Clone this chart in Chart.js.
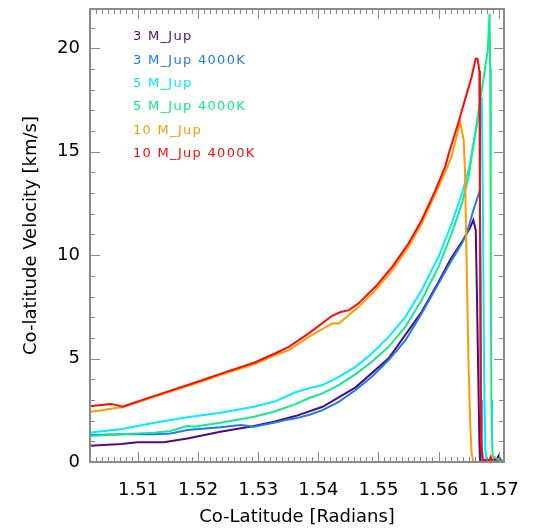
<!DOCTYPE html>
<html>
<head>
<meta charset="utf-8">
<script src="https://cdn.jsdelivr.net/npm/chart.js@4.4.1/dist/chart.umd.min.js"></script>
<style>
  html,body{margin:0;padding:0;background:#fff;}
  #c{display:block;}
</style>
</head>
<body>
<canvas id="c" width="538" height="531"></canvas>
<script>
// ---- data ----
const seriesNames = ["3 M_Jup", "3 M_Jup 4000K", "5 M_Jup", "5 M_Jup 4000K", "10 M_Jup", "10 M_Jup 4000K"];
const seriesColors = ["#520a78", "#1a7cf5", "#00eeff", "#10ec8c", "#ff9a00", "#ff0a0a"];

const xTickValues = [1.51, 1.52, 1.53, 1.54, 1.55, 1.56, 1.57];
const yTickValues = [0, 5, 10, 15, 20];
const xRange = [1.502, 1.5709];
const yRange = [0, 21.9];

const m3_x = [1.5020,1.5072,1.5099,1.5143,1.5182,1.5237,1.5293,1.5326,1.5362,1.5407,1.5462,1.5517,1.5572,1.5600,1.5620,1.5640,1.5652,1.5658,1.5662,1.5664,1.5666,1.5668,1.5669,1.5680,1.5690,1.5697,1.5700,1.5703,1.5709];
const m3_y = [0.79,0.87,0.95,0.95,1.14,1.46,1.74,1.95,2.22,2.67,3.61,5.01,7.26,8.70,9.80,10.70,11.30,11.69,11.20,8.00,4.50,1.00,0.10,0.05,0.10,0.15,0.30,0.10,0.00];

const m3k_x = [1.5020,1.5072,1.5127,1.5154,1.5182,1.5237,1.5271,1.5293,1.5326,1.5351,1.5362,1.5384,1.5407,1.5434,1.5462,1.5489,1.5517,1.5545,1.5572,1.5600,1.5622,1.5639,1.5647,1.5658,1.5669,1.5670,1.5671,1.5672,1.5674,1.5690,1.5709];
const m3k_y = [1.30,1.34,1.34,1.38,1.55,1.68,1.79,1.71,1.90,2.06,2.11,2.27,2.51,2.91,3.48,4.12,4.93,5.89,7.18,8.63,9.76,10.57,11.05,12.17,13.14,9.00,3.00,0.80,0.10,0.05,0.00];

const m5_x = [1.5020,1.5072,1.5127,1.5182,1.5237,1.5293,1.5326,1.5362,1.5384,1.5407,1.5434,1.5462,1.5489,1.5517,1.5545,1.5572,1.5600,1.5622,1.5639,1.5650,1.5661,1.5672,1.5674,1.5676,1.5678,1.5680,1.5690,1.5709];
const m5_y = [1.42,1.58,1.90,2.16,2.38,2.67,2.91,3.37,3.56,3.72,4.12,4.60,5.25,6.05,7.02,8.31,9.92,11.53,12.98,14.10,15.80,17.65,12.00,4.00,0.60,0.10,0.05,0.00];

const m5k_x = [1.5020,1.5072,1.5127,1.5154,1.5182,1.5193,1.5237,1.5293,1.5326,1.5362,1.5384,1.5407,1.5434,1.5462,1.5489,1.5517,1.5545,1.5572,1.5600,1.5622,1.5639,1.5650,1.5666,1.5677,1.5682,1.5685,1.5686,1.5687,1.5688,1.5689,1.5690,1.5700,1.5709];
const m5k_y = [1.26,1.34,1.42,1.50,1.74,1.70,1.90,2.19,2.43,2.80,3.08,3.32,3.72,4.25,4.85,5.57,6.54,7.83,9.43,11.05,12.50,13.78,16.84,18.94,19.90,21.67,19.00,10.00,3.00,1.20,0.30,0.10,0.00];

const m10_x = [1.5020,1.5040,1.5060,1.5074,1.5111,1.5154,1.5199,1.5243,1.5293,1.5326,1.5351,1.5384,1.5423,1.5434,1.5467,1.5495,1.5523,1.5550,1.5572,1.5595,1.5611,1.5617,1.5622,1.5636,1.5642,1.5644,1.5647,1.5650,1.5653,1.5655,1.5658,1.5709];
const m10_y = [2.43,2.50,2.60,2.65,3.00,3.40,3.83,4.26,4.72,5.15,5.41,6.05,6.70,6.70,7.50,8.31,9.28,10.40,11.53,12.98,14.00,14.43,14.80,16.44,15.56,14.10,9.40,4.60,1.70,0.43,0.00,0.00];

const m10k_x = [1.5020,1.5054,1.5065,1.5074,1.5111,1.5154,1.5199,1.5243,1.5293,1.5326,1.5351,1.5384,1.5423,1.5437,1.5451,1.5467,1.5495,1.5523,1.5550,1.5572,1.5595,1.5611,1.5617,1.5633,1.5642,1.5650,1.5655,1.5658,1.5662,1.5665,1.5668,1.5669,1.5670,1.5671,1.5673,1.5685,1.5687,1.5690,1.5709];
const m10k_y = [2.70,2.80,2.75,2.67,3.04,3.45,3.88,4.32,4.80,5.22,5.57,6.22,7.07,7.25,7.34,7.67,8.47,9.43,10.56,11.69,13.14,14.27,14.90,16.40,17.30,18.10,18.60,19.00,19.50,19.50,18.90,12.00,3.00,0.80,0.10,0.10,0.25,0.05,0.00];

const seriesX = [m3_x, m3k_x, m5_x, m5k_x, m10_x, m10k_x];
const seriesY = [m3_y, m3k_y, m5_y, m5k_y, m10_y, m10k_y];

// ---- chart ----
const FONT = "'DejaVu Sans', 'Liberation Sans', sans-serif";
const AXIS_COLOR = "#8a8a8a";

const datasets = seriesNames.map((name, i) => ({
  label: name,
  data: seriesX[i].map((x, k) => ({x: x, y: seriesY[i][k]})),
  borderColor: seriesColors[i],
  backgroundColor: seriesColors[i],
  borderWidth: 2,
  pointRadius: 0,
  showLine: true,
  tension: 0,
  fill: false,
  order: seriesNames.length - i
}));

const boxTicksPlugin = {
  id: 'boxTicks',
  afterDatasetsDraw(chart) {
    const ctx = chart.ctx;
    const a = chart.chartArea;
    const xs = chart.scales.x, ys = chart.scales.y;
    ctx.save();
    ctx.strokeStyle = AXIS_COLOR;
    ctx.lineWidth = 1;
    // x ticks (minor every 0.001, major every 0.01)
    const k0 = Math.ceil(xs.min / 0.001 - 1e-6), k1 = Math.floor(xs.max / 0.001 + 1e-6);
    for (let k = k0; k <= k1; k++) {
      const px = Math.round(xs.getPixelForValue(k * 0.001)) + 0.5;
      const major = (k % 10 === 0);
      const len = major ? 10 : 5;
      ctx.beginPath();
      ctx.moveTo(px, a.bottom); ctx.lineTo(px, a.bottom - len);
      ctx.moveTo(px, a.top); ctx.lineTo(px, a.top + len);
      ctx.stroke();
    }
    // y ticks (minor every 1, major every 5)
    for (let v = Math.ceil(ys.min); v <= Math.floor(ys.max); v++) {
      const py = Math.round(ys.getPixelForValue(v)) + 0.5;
      const len = (v % 5 === 0) ? 10 : 5;
      ctx.beginPath();
      ctx.moveTo(a.left, py); ctx.lineTo(a.left + len, py);
      ctx.moveTo(a.right, py); ctx.lineTo(a.right - len, py);
      ctx.stroke();
    }
    // box
    ctx.lineWidth = 2;
    ctx.strokeRect(a.left, a.top, a.right - a.left, a.bottom - a.top);
    ctx.restore();

    // legend (coloured text only)
    ctx.save();
    ctx.font = "13px " + FONT;
    if ('letterSpacing' in ctx) ctx.letterSpacing = "1.3px";
    ctx.textAlign = "left";
    ctx.textBaseline = "middle";
    seriesNames.forEach((name, i) => {
      ctx.fillStyle = seriesColors[i];
      ctx.fillText(name, a.left + 43, a.top + 28 + i * 23.3);
    });
    ctx.restore();
  }
};

new Chart(document.getElementById('c'), {
  type: 'scatter',
  data: { datasets },
  options: {
    responsive: false,
    animation: false,
    events: [],
    layout: { padding: { top: 9, right: 34, left: 0, bottom: 0 } },
    plugins: { legend: { display: false }, tooltip: { enabled: false } },
    scales: {
      x: {
        type: 'linear',
        min: xRange[0],
        max: xRange[1],
        afterBuildTicks(scale) { scale.ticks = xTickValues.map(v => ({value: v})); },
        afterFit(scale) { scale.height = 69; },
        grid: { display: false, drawTicks: false },
        border: { display: false },
        ticks: {
          padding: 18,
          color: '#000',
          font: { family: FONT, size: 18 },
          maxRotation: 0,
          autoSkip: false,
          callback: (v) => v.toFixed(2)
        },
        title: {
          display: true,
          text: 'Co-Latitude [Radians]',
          color: '#000',
          font: { family: FONT, size: 18 },
          padding: { top: 0, bottom: 3 }
        }
      },
      y: {
        type: 'linear',
        min: yRange[0],
        max: yRange[1],
        afterBuildTicks(scale) { scale.ticks = yTickValues.map(v => ({value: v})); },
        afterFit(scale) { scale.width = 90; scale.paddingTop = 0; scale.paddingBottom = 0; },
        grid: { display: false, drawTicks: false },
        border: { display: false },
        ticks: {
          padding: 10,
          color: '#000',
          font: { family: FONT, size: 18 },
          autoSkip: false,
          callback: (v) => String(v)
        },
        title: {
          display: true,
          text: 'Co-latitude Velocity [km/s]',
          color: '#000',
          font: { family: FONT, size: 18 },
          padding: { top: 21, bottom: 0 }
        }
      }
    }
  },
  plugins: [boxTicksPlugin]
});
</script>
</body>
</html>
